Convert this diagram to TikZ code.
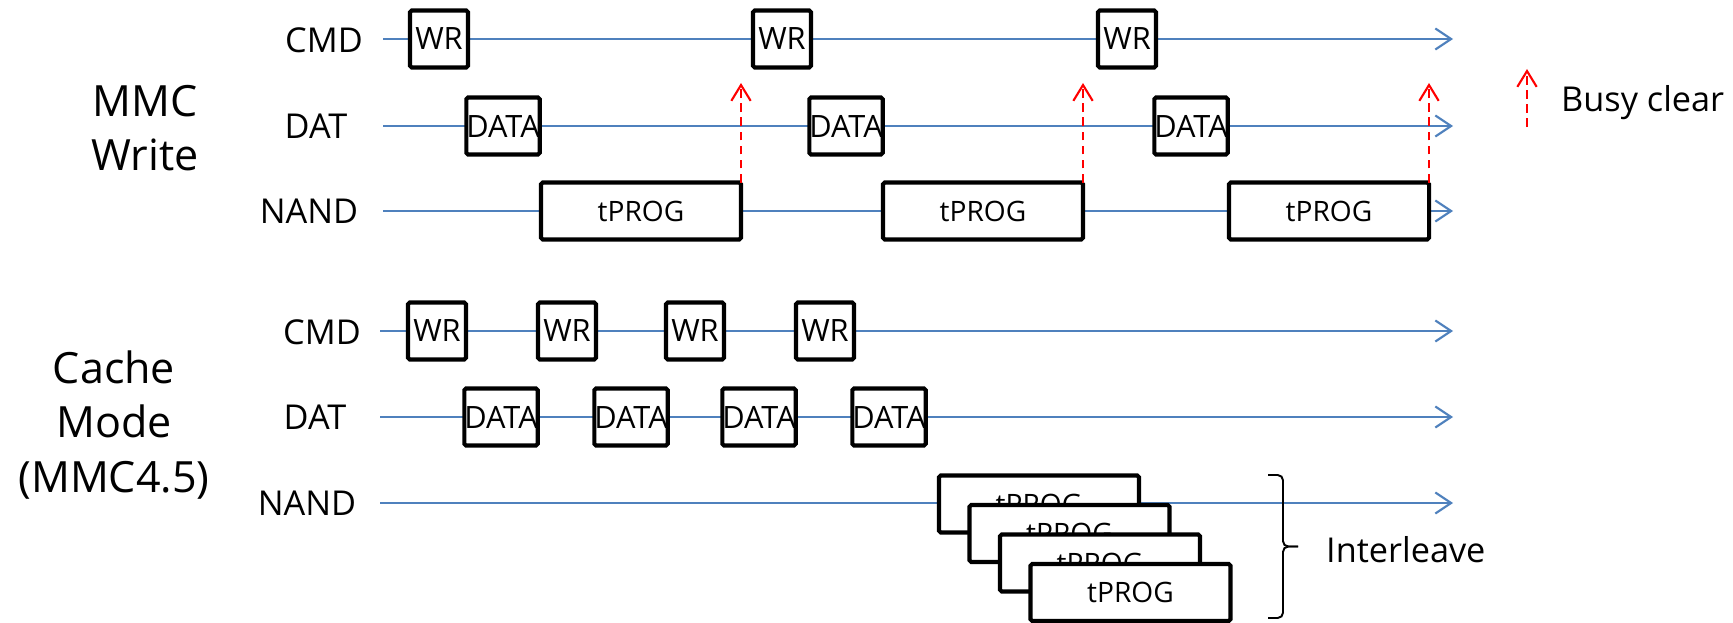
\documentclass[tikz,border=0pt]{standalone}
\usepackage{fontspec}
\setmainfont{Open Sans}
\usepackage{xcolor}
\usepackage{tikz}
\usetikzlibrary{arrows.meta}

\definecolor{sigblue}{RGB}{79,129,189}

\begin{document}
\begin{tikzpicture}[x=0.2mm,y=-0.2mm,
    sig/.style={draw=sigblue,line width=1.2pt,-{Straight Barb[length=9pt,width=12pt]}},
    box/.style={draw,fill=white,line width=2.3pt,rounded corners=1pt,inner sep=0pt,outer sep=0pt,minimum height=1.14cm,font=\fontsize{17.5}{19}\selectfont},
    wrbox/.style={box,minimum width=1.16cm},
    databox/.style={box,minimum width=1.44cm},
    progbox/.style={box,minimum width=4cm,font=\fontsize{16}{18}\selectfont},
    lbl/.style={font=\fontsize{19.5}{22}\selectfont},
    big/.style={align=center,font=\fontsize{24.5}{31}\selectfont},
    busy/.style={draw=red,dash pattern=on 5pt off 3pt,line width=1.2pt,-{Straight Barb[length=9pt,width=11pt]}}]
    \useasboundingbox (0,0) rectangle (1733,623);

    \node[big] (modeA) at (145,128) {MMC\\Write};
    \node[big] (modeB) at (114,425) {Cache\\Mode\\(MMC4.5)};

    \node[lbl] (cmdA) at (324,40) {CMD};
    \node[lbl] (datA) at (316,126) {DAT};
    \node[lbl] (nandA) at (309,211) {NAND};
    \node[lbl] (cmdB) at (322,332) {CMD};
    \node[lbl] (datB) at (315,417) {DAT};
    \node[lbl] (nandB) at (307,503) {NAND};

    \coordinate (cmdA0) at (383,39);   \coordinate (cmdA1) at (1453,39);
    \coordinate (datA0) at (383,126);  \coordinate (datA1) at (1453,126);
    \coordinate (nandA0) at (383,211); \coordinate (nandA1) at (1453,211);
    \coordinate (cmdB0) at (380,331);  \coordinate (cmdB1) at (1453,331);
    \coordinate (datB0) at (380,417);  \coordinate (datB1) at (1453,417);
    \coordinate (nandB0) at (380,503); \coordinate (nandB1) at (1453,503);

    \draw[sig] (cmdA0) -- (cmdA1);
    \draw[sig] (datA0) -- (datA1);
    \draw[sig] (nandA0) -- (nandA1);
    \draw[sig] (cmdB0) -- (cmdB1);
    \draw[sig] (datB0) -- (datB1);
    \draw[sig] (nandB0) -- (nandB1);

    \node[wrbox] (wrA1) at (439,39) {WR};
    \node[wrbox] (wrA2) at (782,39) {WR};
    \node[wrbox] (wrA3) at (1127,39) {WR};
    \node[databox] (dataA1) at (503,126) {DATA};
    \node[databox] (dataA2) at (846,126) {DATA};
    \node[databox] (dataA3) at (1191,126) {DATA};
    \node[progbox] (progA1) at (641,211) {tPROG};
    \node[progbox] (progA2) at (983,211) {tPROG};
    \node[progbox] (progA3) at (1329,211) {tPROG};

    \coordinate (clr) at (0,83);
    \draw[busy] (progA1.north east) -- (progA1.north east |- clr);
    \draw[busy] (progA2.north east) -- (progA2.north east |- clr);
    \draw[busy] (progA3.north east) -- (progA3.north east |- clr);

    \coordinate (lgB) at (1527,127);
    \coordinate (lgT) at (1527,69);
    \draw[busy] (lgB) -- (lgT);
    \node[lbl,anchor=base west] (busytxt) at (1555,111) {Busy clear};

    \node[wrbox] (wrB1) at (437,331) {WR};
    \node[wrbox] (wrB2) at (567,331) {WR};
    \node[wrbox] (wrB3) at (695,331) {WR};
    \node[wrbox] (wrB4) at (825,331) {WR};
    \node[databox] (dataB1) at (501,417) {DATA};
    \node[databox] (dataB2) at (631,417) {DATA};
    \node[databox] (dataB3) at (759,417) {DATA};
    \node[databox] (dataB4) at (889,417) {DATA};

    \node[progbox] (progB1) at (1039,504) {tPROG};
    \node[progbox] (progB2) at (1069.5,533.5) {tPROG};
    \node[progbox] (progB3) at (1100,563) {tPROG};
    \node[progbox] (progB4) at (1130.5,592.5) {tPROG};

    \coordinate (brT) at (1268,475);
    \coordinate (brM) at (1298,546.5);
    \coordinate (brB) at (1268,618);
    \draw[line width=1.1pt,rounded corners=3pt] (brT) -- ++(15,0) |- (brM);
    \draw[line width=1.1pt,rounded corners=3pt] (brB) -- ++(15,0) |- (brM);
    \node[lbl,anchor=base west] (ilv) at (1320,562) {Interleave};
\end{tikzpicture}
\end{document}
